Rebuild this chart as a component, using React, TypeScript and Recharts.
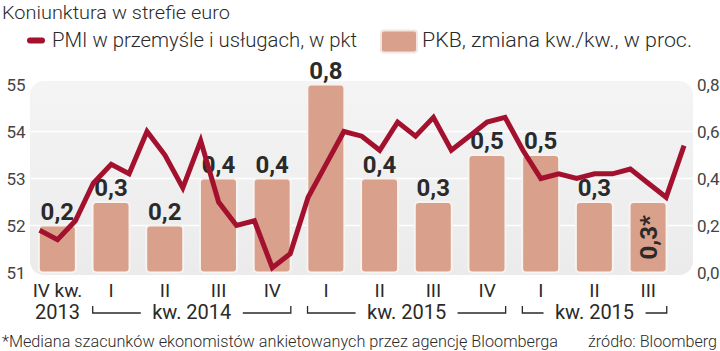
import { Bar, CartesianGrid, ComposedChart, Line, XAxis, YAxis } from "recharts";

// PMI (composite), monthly from Oct 2013 to Oct 2016
const PMI = [
  51.9, 51.7, 52.1, 52.9, 53.3, 53.1, 54.0, 53.5, 52.8, 53.8, 52.5, 52.0, 52.1, 51.1, 51.4, 52.6, 53.3, 54.0,
  53.9, 53.6, 54.2, 53.9, 54.3, 53.6, 53.9, 54.2, 54.3, 53.6, 53.0, 53.1, 53.0, 53.1, 53.1, 53.2, 52.9, 52.6,
  53.7,
];
// PKB q/q, one per quarter (bar sits on the middle month)
const PKB = [0.2, 0.3, 0.2, 0.4, 0.4, 0.8, 0.4, 0.3, 0.5, 0.5, 0.3, 0.3];
const QUARTERS = ["IV kw.", "I", "II", "III", "IV", "I", "II", "III", "IV", "I", "II", "III"];
const YEAR_GROUPS = [
  { label: "2013", from: 0, to: 0, bracket: false },
  { label: "kw. 2014", from: 1, to: 4, bracket: true },
  { label: "kw. 2015", from: 5, to: 8, bracket: true },
  { label: "kw. 2015", from: 9, to: 11, bracket: true },
];
const ESTIMATE_QUARTER = 11;
const LEFT_TICKS = [51, 52, 53, 54, 55];
const RIGHT_TICKS = [0, 0.2, 0.4, 0.6, 0.8];

const RED = "#a3112e";
const SALMON = "#d9a08b";
const TEXT = "#2a2a2a";
const FONT = "Roboto, 'Liberation Sans', sans-serif";
const BAR_W = 37;

const data = PMI.map((pmi, m) => ({ m, pmi, pkb: m % 3 === 1 ? PKB[(m - 1) / 3] : null }));

const comma = (v: number) => v.toFixed(1).replace(".", ",");

function PkbBar(props: any) {
  const { x, y, width, height, payload } = props;
  if (payload == null || payload.pkb == null) return null;
  const q = (payload.m - 1) / 3;
  const cx = x + width / 2;
  const estimate = q === ESTIMATE_QUARTER;
  return (
    <g>
      <rect
        x={cx - BAR_W / 2}
        y={y}
        width={BAR_W}
        height={height}
        rx={4}
        fill={SALMON}
        stroke="#f7f3f1"
        strokeWidth={2}
      />
      {estimate ? (
        <text
          transform={`translate(${cx + 1},${y + height / 2}) rotate(-90)`}
          textAnchor="middle"
          dominantBaseline="central"
          fontSize={24}
          fontWeight={700}
          fill={TEXT}
        >
          {comma(payload.pkb)}*
        </text>
      ) : (
        <text x={cx} y={y - 6} textAnchor="middle" fontSize={24} fontWeight={700} fill={TEXT}>
          {comma(payload.pkb)}
        </text>
      )}
    </g>
  );
}

function QuarterTick(props: any) {
  const { x, y, payload } = props;
  const m = payload.value as number;
  if (m % 3 !== 1) return null;
  const q = (m - 1) / 3;
  const step = (payload.offset ? payload.offset * 2 : 662.35 / 37) * 3;
  const group = YEAR_GROUPS.find((g) => g.from === q);
  let groupEl = null;
  if (group) {
    const left = x - BAR_W / 2;
    const right = x + (group.to - group.from) * step + BAR_W / 2;
    const mid = group.bracket ? (left + right) / 2 : x;
    const ly = y + 40.5;
    groupEl = (
      <g>
        <text x={mid} y={y + 46.5} textAnchor="middle" fontSize={20} fill={TEXT}>
          {group.label}
        </text>
        {group.bracket && (
          <path
            d={`M${left},${ly - 7}V${ly}H${mid - 51} M${mid + 51},${ly}H${right}V${ly - 7}`}
            stroke={TEXT}
            strokeWidth={1.3}
            fill="none"
          />
        )}
      </g>
    );
  }
  return (
    <g>
      <text x={x} y={y + 24} textAnchor="middle" fontSize={19} fill={TEXT}>
        {QUARTERS[q]}
      </text>
      {groupEl}
    </g>
  );
}

export default function App() {
  return (
    <div style={{ position: "absolute", left: 0, top: 0, width: 720, height: 351, background: "#fff", fontFamily: FONT }}>
      <div
        style={{
          position: "absolute",
          left: 30,
          top: 81,
          width: 663,
          height: 194,
          borderRadius: 14,
          background: "linear-gradient(180deg, #f4f4f4 0%, #ebebeb 100%)",
        }}
      />
      <div style={{ position: "absolute", left: 0, top: 0 }}>
        <ComposedChart width={720} height={351} data={data} margin={{ top: 84.5, right: 0, bottom: 18.5, left: 0 }}>
          <CartesianGrid yAxisId="left" vertical={false} horizontalValues={[52, 53, 54]} stroke="#ffffff" strokeWidth={1.5} />
          <XAxis
            dataKey="m"
            type="category"
            interval={0}
            height={60}
            axisLine={false}
            tickLine={false}
            tickSize={0}
            tickMargin={0}
            tick={<QuarterTick />}
          />
          <YAxis
            yAxisId="left"
            orientation="left"
            width={30.65}
            domain={[51, 55]}
            ticks={LEFT_TICKS}
            axisLine={false}
            tickLine={false}
            tickSize={0}
            tickMargin={5}
            tick={{ fontSize: 17, fill: "#444" }}
          />
          <YAxis
            yAxisId="right"
            orientation="right"
            width={27}
            domain={[0, 0.8]}
            ticks={RIGHT_TICKS}
            axisLine={false}
            tickLine={false}
            tickSize={0}
            tickMargin={4}
            tickFormatter={comma}
            tick={{ fontSize: 17, fill: "#444" }}
          />
          <Bar yAxisId="right" dataKey="pkb" shape={<PkbBar />} isAnimationActive={false} />
          <Line
            yAxisId="left"
            dataKey="pmi"
            type="linear"
            stroke={RED}
            strokeWidth={5}
            dot={false}
            activeDot={false}
            isAnimationActive={false}
          />
        </ComposedChart>
      </div>
      <svg width={720} height={351} style={{ position: "absolute", left: 0, top: 0, pointerEvents: "none" }}>
        <text x={2} y={18.5} fontSize={18} fontWeight={300} fill={TEXT} textLength={228} lengthAdjust="spacingAndGlyphs">
          Koniunktura w strefie euro
        </text>
        <rect x={27} y={37.5} width={18} height={6} rx={3} fill={RED} />
        <text x={52} y={47} fontSize={20} fontWeight={300} fill={TEXT} textLength={305} lengthAdjust="spacingAndGlyphs">
          PMI w przemyśle i usługach, w pkt
        </text>
        <rect x={381} y={30.5} width={36} height={22} rx={3} fill={SALMON} stroke="#f1e6e2" strokeWidth={2} />
        <text x={422} y={47} fontSize={20} fontWeight={300} fill={TEXT} textLength={270} lengthAdjust="spacingAndGlyphs">
          PKB, zmiana kw./kw., w proc.
        </text>
        <text x={2} y={346.5} fontSize={16} fontWeight={300} fill={TEXT} textLength={556} lengthAdjust="spacingAndGlyphs">
          *Mediana szacunków ekonomistów ankietowanych przez agencję Bloomberga
        </text>
        <text x={588} y={346.5} fontSize={16} fontWeight={300} fill={TEXT} textLength={129} lengthAdjust="spacingAndGlyphs">
          źródło: Bloomberg
        </text>
      </svg>
    </div>
  );
}
